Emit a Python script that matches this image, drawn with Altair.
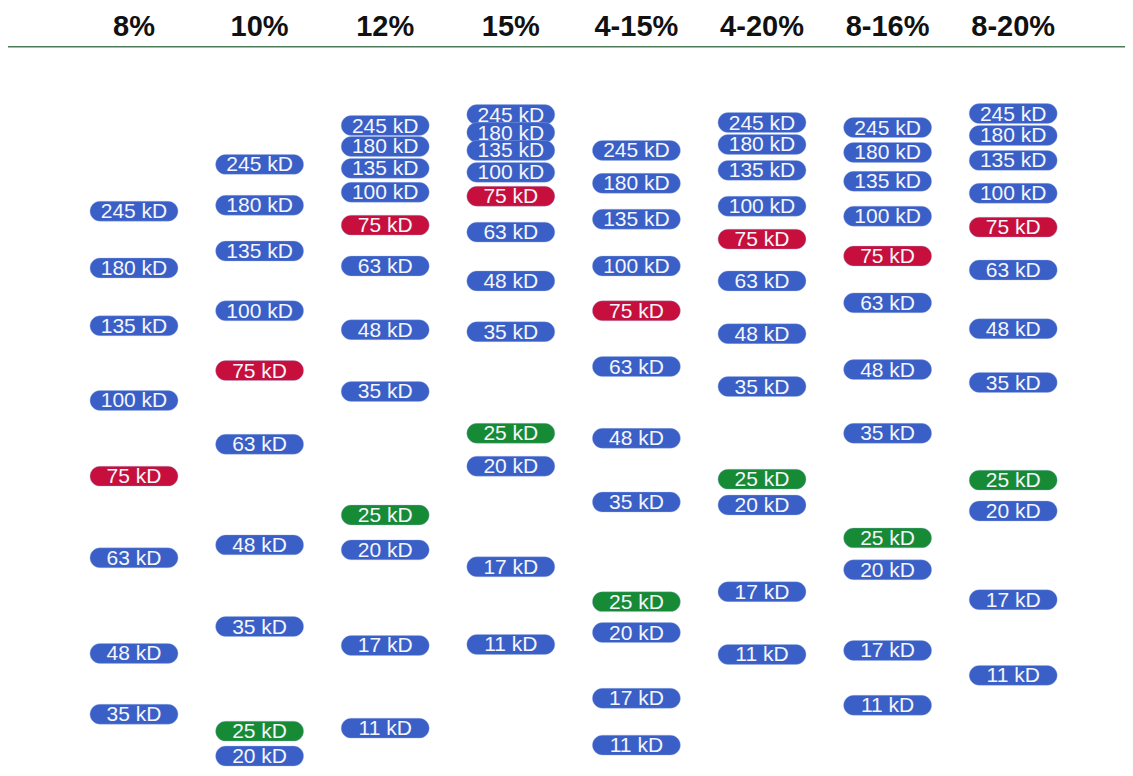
import altair as alt
import pandas as pd

gels = ["8%", "10%", "12%", "15%", "4-15%", "4-20%", "8-16%", "8-20%"]
markers = ["245", "180", "135", "100", "75", "63", "48", "35", "25", "20", "17", "11"]

# band centre positions (pixels from top of the gel image) for each gel, in marker order
pos_8 = [213, 270, 328, 403, 479, 561, 657, 718]
pos_10 = [166, 207, 253, 313, 373, 447, 548, 630, 735, 760]
pos_12 = [127, 148, 170, 194, 227, 268, 332, 394, 518, 553, 649, 732]
pos_15 = [116, 134, 152, 174, 198, 234, 283, 334, 436, 469, 570, 648]
pos_4_15 = [152, 185, 221, 268, 313, 369, 441, 505, 605, 636, 702, 749]
pos_4_20 = [124, 146, 172, 208, 241, 283, 336, 389, 482, 508, 595, 658]
pos_8_16 = [129, 154, 183, 218, 258, 305, 372, 436, 541, 573, 654, 709]
pos_8_20 = [115, 137, 162, 195, 229, 272, 331, 385, 483, 514, 603, 679]

positions = [pos_8, pos_10, pos_12, pos_15, pos_4_15, pos_4_20, pos_8_16, pos_8_20]

rows = []
for gi, (g, plist) in enumerate(zip(gels, positions)):
    for m, p in zip(markers, plist):
        kind = "red" if m == "75" else ("green" if m == "25" else "blue")
        rows.append({"gel": g, "gi": gi, "label": f"{m} kD", "pos": p, "kind": kind})
df = pd.DataFrame(rows)

hdr = pd.DataFrame({"gel": gels, "gi": list(range(len(gels))), "pos": [37] * len(gels)})

W, H = 1117, 760
step = 125.6
lo = -126 / step
hi = lo + W / step
half_w = 44 / step
half_h = 10

xs = alt.Scale(domain=[lo, hi], nice=False, zero=False)
ys = alt.Scale(domain=[9, 772], reverse=True, nice=False, zero=False)

base = alt.Chart(df).transform_calculate(
    xl=f"datum.gi - {half_w}", xr=f"datum.gi + {half_w}",
    yt=f"datum.pos - {half_h}", yb=f"datum.pos + {half_h}",
)

pills = base.mark_rect(cornerRadius=10, stroke="#9fb3e6", strokeWidth=0.6, strokeOpacity=0.6).encode(
    x=alt.X("xl:Q", scale=xs, axis=None),
    x2="xr:Q",
    y=alt.Y("yt:Q", scale=ys, axis=None),
    y2="yb:Q",
    color=alt.Color("kind:N", scale=alt.Scale(domain=["blue", "red", "green"],
                                              range=["#3a5fc6", "#c60f3c", "#178a36"]), legend=None),
)

labels = base.mark_text(font="Liberation Sans", fontSize=21, color="#f4f6fb", baseline="middle", dy=1).encode(
    x=alt.X("gi:Q", scale=xs, axis=None),
    y=alt.Y("pos:Q", scale=ys, axis=None),
    text="label:N",
)

headers = alt.Chart(hdr).mark_text(font="Liberation Sans", fontSize=29, fontWeight="bold",
                                   color="#111111", baseline="alphabetic").encode(
    x=alt.X("gi:Q", scale=xs, axis=None),
    y=alt.Y("pos:Q", scale=ys, axis=None),
    text="gel:N",
)

line = alt.Chart(pd.DataFrame({"y": [48]})).mark_rule(color="#4d7a58", strokeWidth=1.5).encode(
    y=alt.Y("y:Q", scale=ys, axis=None),
    x=alt.value(0), x2=alt.value(W),
)

chart = alt.layer(line, pills, labels, headers).properties(
    width=W, height=H, padding=0, autosize=alt.AutoSizeParams(type="none")
).configure_view(stroke=None)

chart.save("out.html", embed_options={"renderer": "svg", "actions": False})
